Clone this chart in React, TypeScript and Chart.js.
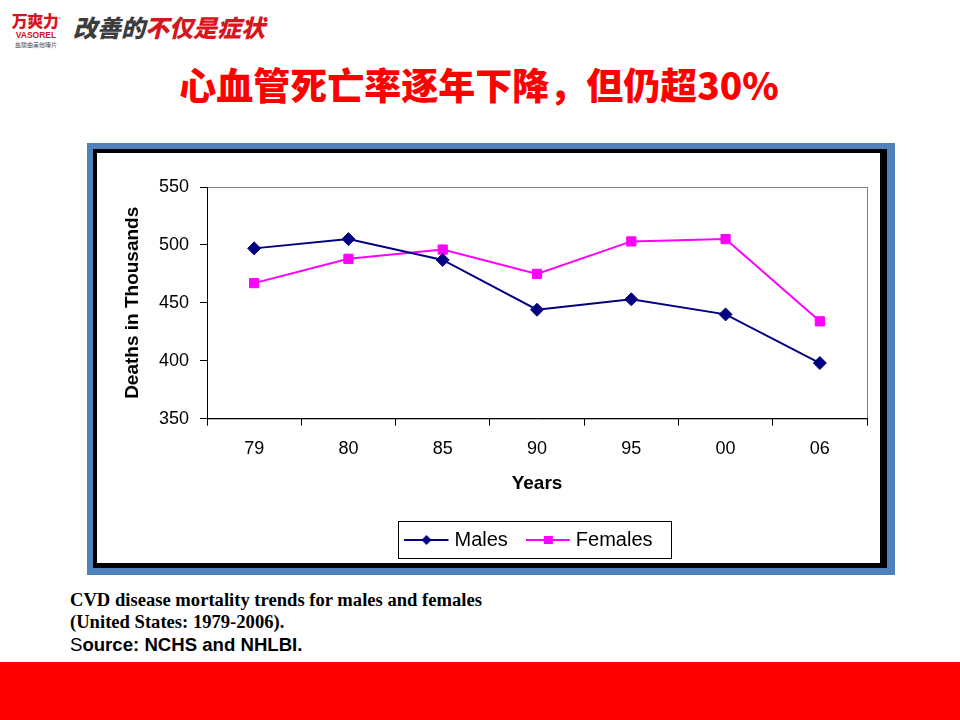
import { useEffect, useRef } from 'react'
import { Chart, registerables } from 'chart.js'

Chart.register(...registerables)

const years = ['79', '80', '85', '90', '95', '00', '06']
const males = [497, 505, 487, 444, 453, 440, 398]
const females = [467, 488, 496, 475, 503, 505, 434]
const seriesNames = ['Males', 'Females']
const yMin = 350
const yMax = 550
const yStep = 50

const NAVY = '#000080'
const MAGENTA = '#ff00ff'
const SANS = '"Liberation Sans", Arial, sans-serif'
const SERIF = '"Liberation Serif", "Times New Roman", serif'

// line+marker swatch for the legend, excel style. drawn on the left of a wider
// canvas so it sits a bit before the legend box chart.js reserves for it
function swatch(color: string, shape: 'diamond' | 'square') {
  const c = document.createElement('canvas')
  c.width = 57
  c.height = 14
  const g = c.getContext('2d')!
  g.strokeStyle = color
  g.lineWidth = 2
  g.beginPath()
  g.moveTo(0, 7)
  g.lineTo(44, 7)
  g.stroke()
  g.fillStyle = color
  if (shape === 'diamond') {
    g.beginPath()
    g.moveTo(22, 2)
    g.lineTo(27, 7)
    g.lineTo(22, 12)
    g.lineTo(17, 7)
    g.closePath()
    g.fill()
  } else {
    g.fillRect(18, 3, 9, 8)
  }
  return c
}

const plotFrame = {
  id: 'plotFrame',
  beforeDraw(chart: any) {
    const { ctx, chartArea: a } = chart
    ctx.save()
    ctx.strokeStyle = '#808080'
    ctx.lineWidth = 1
    ctx.strokeRect(a.left + 0.5, a.top + 0.5, a.right - a.left, a.bottom - a.top)
    ctx.restore()
  },
  afterDraw(chart: any) {
    const hb = chart.legend?.legendHitBoxes
    if (!hb || !hb.length) return
    const { ctx } = chart
    const left = Math.min(...hb.map((h: any) => h.left)) - 23
    const right = Math.max(...hb.map((h: any) => h.left + h.width)) + 19
    const top = hb[0].top - 9
    const bottom = hb[0].top + hb[0].height + 8
    ctx.save()
    ctx.strokeStyle = '#000'
    ctx.lineWidth = 1
    ctx.strokeRect(Math.round(left) + 0.5, Math.round(top) + 0.5, Math.round(right - left), Math.round(bottom - top))
    ctx.restore()
  },
}

function MortalityChart() {
  const canvasRef = useRef<HTMLCanvasElement | null>(null)
  const chartRef = useRef<Chart | null>(null)

  useEffect(() => {
    if (!canvasRef.current) return
    const ctx = canvasRef.current.getContext('2d')!
    const marks = [swatch(NAVY, 'diamond'), swatch(MAGENTA, 'square')]

    chartRef.current = new Chart(ctx, {
      type: 'line',
      data: {
        labels: years,
        datasets: [
          {
            label: seriesNames[0],
            data: males,
            borderColor: NAVY,
            backgroundColor: NAVY,
            borderWidth: 2,
            pointStyle: 'rectRot',
            pointRadius: 6.5,
            pointBorderWidth: 1,
          },
          {
            label: seriesNames[1],
            data: females,
            borderColor: MAGENTA,
            backgroundColor: MAGENTA,
            borderWidth: 2,
            pointStyle: 'rect',
            pointRadius: 6.5,
            pointBorderWidth: 1,
          },
        ],
      },
      options: {
        animation: false,
        responsive: true,
        maintainAspectRatio: false,
        layout: { padding: { top: 34, left: 24, right: 13, bottom: 3 } },
        scales: {
          x: {
            offset: true,
            grid: { display: true, drawOnChartArea: false, drawTicks: true, tickLength: 7, color: '#000', offset: true },
            border: { display: true, color: '#000', width: 1 },
            ticks: { color: '#000', padding: 13, font: { family: SANS, size: 18 } },
            title: {
              display: true,
              text: 'Years',
              color: '#000',
              padding: { top: -1, bottom: 0 },
              font: { family: SANS, size: 19, weight: 'bold' },
            },
          },
          y: {
            min: yMin,
            max: yMax,
            afterFit: (s: any) => {
              s.width = 86
            },
            grid: { display: true, drawOnChartArea: false, drawTicks: true, tickLength: 7, color: '#000' },
            border: { display: true, color: '#000', width: 1 },
            ticks: { stepSize: yStep, color: '#000', padding: 11, font: { family: SANS, size: 18 } },
            title: {
              display: true,
              text: 'Deaths in Thousands',
              color: '#000',
              padding: { top: 0, bottom: 0 },
              font: { family: SANS, size: 19, weight: 'bold' },
            },
          },
        },
        plugins: {
          tooltip: { enabled: false },
          legend: {
            position: 'bottom',
            fullSize: false,
            labels: {
              usePointStyle: true,
              pointStyleWidth: 23,
              padding: 35,
              color: '#000',
              font: { family: SANS, size: 20 },
              generateLabels: (chart: any) =>
                chart.data.datasets.map((d: any, i: number) => ({
                  text: d.label,
                  pointStyle: marks[i],
                  fillStyle: d.borderColor,
                  strokeStyle: d.borderColor,
                  lineWidth: 0,
                  datasetIndex: i,
                  hidden: false,
                })),
            },
          },
        },
      },
      plugins: [plotFrame],
    })

    return () => chartRef.current?.destroy()
  }, [])

  return <canvas ref={canvasRef} />
}

export default function App() {
  return (
    <div style={{ position: 'fixed', left: 0, top: 0, width: 960, height: 720, background: '#fff', overflow: 'hidden' }}>
      {/* logo */}
      <div style={{ position: 'absolute', left: 8, top: 9, width: 56, textAlign: 'center' }}>
        <div style={{ fontFamily: '"Noto Sans CJK SC"', fontWeight: 900, fontSize: 16, lineHeight: '19px', color: '#d9141e', letterSpacing: -0.5 }}>
          万爽力<sup style={{ fontSize: 5, color: '#999' }}>®</sup>
        </div>
        <div style={{ fontFamily: SANS, fontWeight: 'bold', fontSize: 8.5, lineHeight: '10px', color: '#c8161d' }}>VASOREL</div>
        <div style={{ fontFamily: '"Noto Sans CJK SC"', fontSize: 6, lineHeight: '9px', color: '#555' }}>盐酸曲美他嗪片</div>
      </div>
      <div
        style={{
          position: 'absolute',
          left: 73,
          top: 12,
          fontFamily: '"Noto Sans CJK SC"',
          fontWeight: 900,
          fontStyle: 'italic',
          fontSize: 24,
          lineHeight: '30px',
          whiteSpace: 'nowrap',
        }}
      >
        <span style={{ color: '#3c3c3c' }}>改善的</span>
        <span style={{ color: '#d9141e' }}>不仅是症状</span>
      </div>

      {/* title */}
      <div
        style={{
          position: 'absolute',
          left: 0,
          width: 958,
          top: 62,
          textAlign: 'center',
          fontFamily: '"Noto Sans CJK SC"',
          fontWeight: 900,
          fontSize: 37,
          lineHeight: '44px',
          color: '#ff0000',
          whiteSpace: 'nowrap',
        }}
      >
        心血管死亡率逐年下降，但仍超30%
      </div>

      {/* framed chart */}
      <div style={{ position: 'absolute', left: 87, top: 143, width: 808, height: 432, background: '#4f81bd' }} />
      <div style={{ position: 'absolute', left: 93, top: 149, width: 794, height: 419, background: '#000' }} />
      <div style={{ position: 'absolute', left: 97, top: 153, width: 783, height: 410, background: '#fff' }}>
        <MortalityChart />
      </div>

      {/* caption */}
      <div style={{ position: 'absolute', left: 70, top: 589, color: '#000' }}>
        <div style={{ fontFamily: SERIF, fontWeight: 'bold', fontSize: 18.6, lineHeight: '22px' }}>
          CVD disease mortality trends for males and females
        </div>
        <div style={{ fontFamily: SERIF, fontWeight: 'bold', fontSize: 18.6, lineHeight: '22px' }}>
          (United States: 1979-2006).
        </div>
        <div style={{ fontFamily: SANS, fontSize: 18.6, lineHeight: '24px' }}>
          S<b>ource: NCHS and NHLBI.</b>
        </div>
      </div>

      {/* red band */}
      <div style={{ position: 'absolute', left: 0, top: 662, width: 960, height: 58, background: '#ff0000' }} />
    </div>
  )
}
